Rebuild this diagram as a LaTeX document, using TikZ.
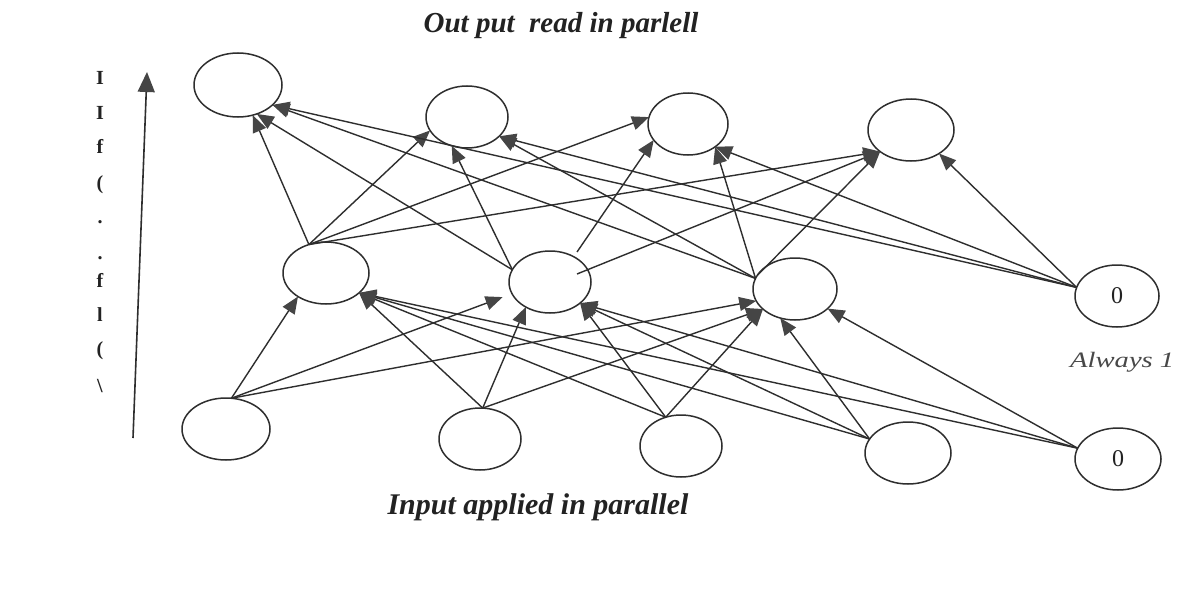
\documentclass[tikz,border=0pt]{standalone}
\usepackage{fontspec}
\setmainfont{Liberation Serif}
\usetikzlibrary{shapes.geometric,arrows.meta,calc}
\definecolor{linecol}{HTML}{2E2E2E}
\definecolor{tipcol}{HTML}{454545}
\definecolor{txtcol}{HTML}{222222}
\definecolor{graytxt}{HTML}{484848}
\tikzset{
  neuron/.style={draw=linecol, ellipse, line width=1.5pt, inner sep=0pt, outer sep=0pt, text=txtcol, font=\fontsize{24}{26}\selectfont},
  conn/.style={draw=linecol, line width=1.4pt, -{Triangle[length=17pt,width=14pt,color=tipcol]}},
  flowletter/.style={text=txtcol, font=\fontsize{20}{21}\selectfont\bfseries, inner sep=0pt},
}
\begin{document}
\begin{tikzpicture}[x=1pt,y=-1pt]
\useasboundingbox[fill=white] (0,0) rectangle (1188,594);

% output layer
\node[neuron, minimum width=88pt, minimum height=64pt] (O1) at (238,85) {};
\node[neuron, minimum width=82pt, minimum height=62pt] (O2) at (467,117) {};
\node[neuron, minimum width=80pt, minimum height=62pt] (O3) at (688,124) {};
\node[neuron, minimum width=86pt, minimum height=62pt] (O4) at (911,130) {};
% hidden layer
\node[neuron, minimum width=86pt, minimum height=62pt] (H1) at (326,273) {};
\node[neuron, minimum width=82pt, minimum height=62pt] (H2) at (550,282) {};
\node[neuron, minimum width=84pt, minimum height=62pt] (H3) at (795,289) {};
\node[neuron, minimum width=84pt, minimum height=62pt] (Bh) at (1117,296) {0};
% input layer
\node[neuron, minimum width=88pt, minimum height=62pt] (I1) at (226,429) {};
\node[neuron, minimum width=82pt, minimum height=62pt] (I2) at (480,439) {};
\node[neuron, minimum width=82pt, minimum height=62pt] (I3) at (681,446) {};
\node[neuron, minimum width=86pt, minimum height=62pt] (I4) at (908,453) {};
\node[neuron, minimum width=86pt, minimum height=62pt] (Bi) at (1118,459) {0};

% hidden -> output
\draw[conn] (H1.121) -- (O1.-64);
\draw[conn] (H1.121) -- (O2.200);
\draw[conn] (H1.121) -- (O3.170);
\draw[conn] (H1.121) -- (O4.215);
\draw[conn] (H2.162) -- (O1.-57);
\draw[conn] (H2.162) -- (O2.-118);
\draw[conn] ($(H2.center)+(27,-30)$) -- (O3.205);
\draw[conn] ($(H2.center)+(27,-8)$) -- (O4.215);
\draw[conn] (H3.165) -- (O1.-30);
\draw[conn] (H3.165) -- (O2.-31);
\draw[conn] (H3.165) -- (O3.-40);
\draw[conn] (H3.160) -- (O4.215);
\draw[conn] (Bh.168) -- (O1.-30);
\draw[conn] (Bh.168) -- (O2.-31);
\draw[conn] (Bh.168) -- (O3.-40);
\draw[conn] (Bh.168) -- (O4.-40);

% input -> hidden
\draw[conn] (I1.80) -- (H1.220);
\draw[conn, shorten >=10pt] (I1.80) -- (H2.197);
\draw[conn] (I1.80) -- (H3.197);
\draw[conn] (I2.85) -- (H1.-31);
\draw[conn] (I2.85) -- (H2.-134);
\draw[conn] (I2.85) -- (H3.212);
\draw[conn] (I3.118) -- (H1.-31);
\draw[conn] (I3.118) -- (H2.-35);
\draw[conn] (I3.118) -- (H3.212);
\draw[conn] (I4.160) -- (H1.-31);
\draw[conn] (I4.160) -- (H2.-35);
\draw[conn] (I4.160) -- (H3.243);
\draw[conn] (Bi.165) -- (H1.-31);
\draw[conn] (Bi.165) -- (H2.-35);
\draw[conn] (Bi.165) -- (H3.-31);

% information flow arrow
\coordinate (flowbot) at (133,438);
\coordinate (flowtop) at (147,72);
\draw[draw=linecol, line width=1.6pt, -{Triangle[length=20pt,width=17pt,color=tipcol]}] (flowbot) -- (flowtop);

% vertical letters
\node[flowletter] (L1) at (100,78) {I};
\node[flowletter] (L2) at (100,113) {I};
\node[flowletter] (L3) at (100,146) {f};
\node[flowletter] (L4) at (100,185) {(};
\node[flowletter] (L5) at (100,222) {.};
\node[flowletter] (L6) at (100,258) {.};
\node[flowletter] (L7) at (100,280) {f};
\node[flowletter] (L8) at (100,315) {l};
\node[flowletter] (L9) at (100,351) {(};
\node[flowletter] (L10) at (100,386) {\textbackslash};

% labels
\node[anchor=base, text=txtcol, inner sep=0pt, font=\fontsize{29}{30}\selectfont\bfseries\itshape] (title) at (561,33) {Out put~ read in parlell};
\node[anchor=base, text=txtcol, inner sep=0pt, font=\fontsize{30}{31}\selectfont\bfseries\itshape] (inlabel) at (538,514) {Input applied in parallel};
\node[anchor=base west, text=graytxt, inner sep=0pt, font=\fontsize{22}{23}\selectfont\itshape] (always) at (1070,367) {\scalebox{1.3}[1]{Always 1}};
\end{tikzpicture}
\end{document}
